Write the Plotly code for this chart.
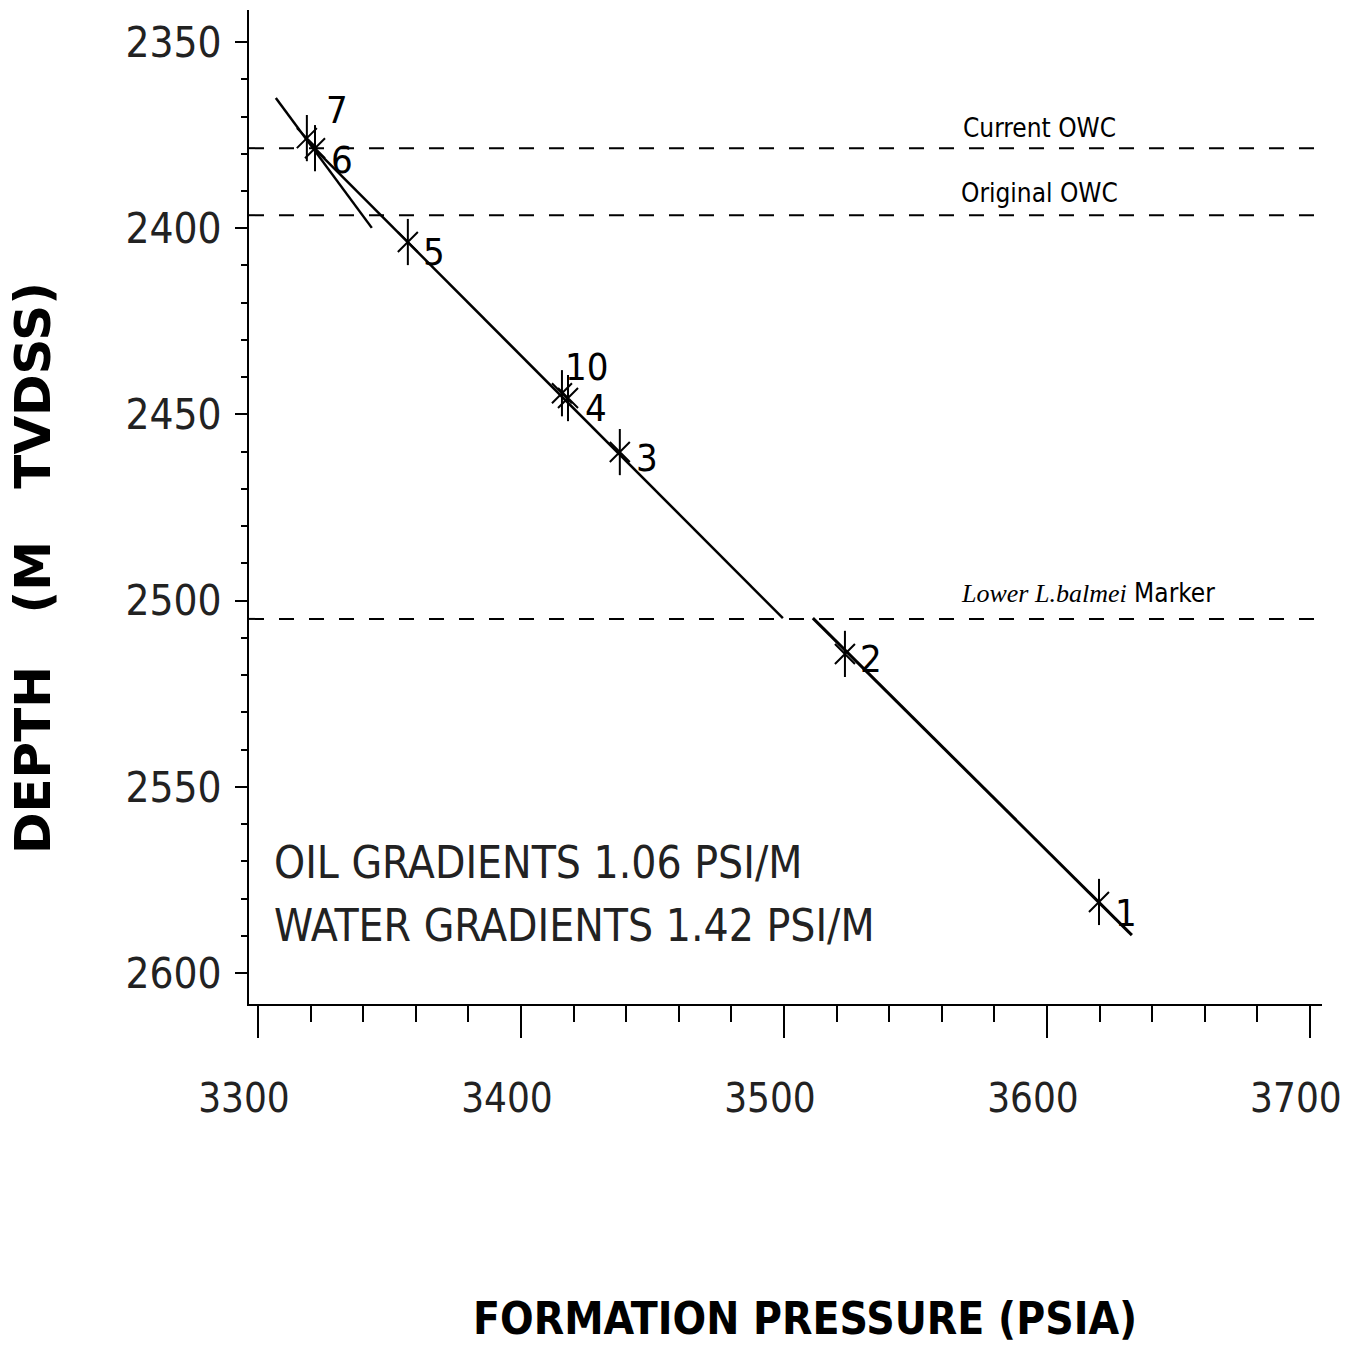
import plotly.graph_objects as go

# ---- data ----
point_ids = ["1", "2", "3", "4", "10", "5", "6", "7"]
pressure_psia = [3619.8, 3523.2, 3437.6, 3417.9, 3415.6, 3357.0, 3321.7, 3318.6]
depth_m = [2580.9, 2514.3, 2460.1, 2445.6, 2444.3, 2403.7, 2378.5, 2375.8]

oil_line_p = [3306.8, 3343.3]
oil_line_d = [2365.0, 2399.9]
water_upper_p = [3320.9, 3499.6]
water_upper_d = [2378.2, 2504.7]
water_lower_p = [3511.0, 3632.3]
water_lower_d = [2504.7, 2589.8]

contact_names = ["Current OWC", "Original OWC",
                 "<i><span style='font-family:Liberation Serif, serif'>Lower L.balmei</span></i> Marker"]
contact_depths = [2378.5, 2396.5, 2504.9]
contact_label_p = [3597.3, 3597.3, 3615.6]

gradient_texts = ["OIL GRADIENTS 1.06 PSI/M", "WATER GRADIENTS 1.42 PSI/M"]
gradient_text_p = [3305.3, 3305.3]
gradient_text_d = [2570.2, 2587.1]

x_title = "FORMATION PRESSURE (PSIA)"
y_title = "DEPTH\u00a0\u00a0\u00a0(M\u00a0\u00a0\u00a0TVDSS)"

# ---- styling ----
COND = "DejaVu Sans Condensed, DejaVu Sans, sans-serif"
label_shift = {"1": (27, -11), "2": (26, -5), "3": (27, -6), "4": (28, -10),
               "10": (25, 26), "5": (26, -10), "6": (27, -12), "7": (30, 28)}
contact_shift = [20, 22, 26]

fig = go.Figure()

for px_, py_, w in [(oil_line_p, oil_line_d, 2.5), (water_upper_p, water_upper_d, 2.5),
                    (water_lower_p, water_lower_d, 3)]:
    fig.add_trace(go.Scatter(x=px_, y=py_, mode="lines",
                             line=dict(color="black", width=w), showlegend=False,
                             hoverinfo="skip"))

fig.add_trace(go.Scatter(x=pressure_psia, y=depth_m, mode="markers",
                         marker=dict(symbol="line-ns-open", size=33, color="black",
                                     line=dict(color="black", width=2)),
                         showlegend=False))
fig.add_trace(go.Scatter(x=pressure_psia, y=depth_m, mode="markers",
                         marker=dict(symbol="x-thin-open", size=20, color="black",
                                     line=dict(color="black", width=2)),
                         showlegend=False, text=point_ids))

for d in contact_depths:
    fig.add_shape(type="line", xref="paper", x0=0, x1=1, yref="y", y0=d, y1=d,
                  line=dict(color="black", width=2, dash="15px,15px"))

for name, d, p, s in zip(contact_names, contact_depths, contact_label_p, contact_shift):
    fig.add_annotation(x=p, y=d, text=name, showarrow=False, xanchor="center",
                       yanchor="middle", yshift=s,
                       font=dict(family=COND, size=26, color="black"))

for pid, p, d in zip(point_ids, pressure_psia, depth_m):
    dx, dy = label_shift[pid]
    fig.add_annotation(x=p, y=d, text=pid, showarrow=False, xanchor="center",
                       yanchor="middle", xshift=dx, yshift=dy,
                       font=dict(family=COND, size=38, color="black"))

for t, p, d in zip(gradient_texts, gradient_text_p, gradient_text_d):
    fig.add_annotation(x=p, y=d, text=t, showarrow=False, xanchor="left",
                       yanchor="middle",
                       font=dict(family=COND, size=44, color="#222"))

fig.add_annotation(xref="paper", yref="paper", x=-0.2013, y=0.4386, text=y_title,
                   textangle=-90, showarrow=False, xanchor="center", yanchor="middle",
                   font=dict(family="DejaVu Sans, sans-serif", size=50, color="black",
                             weight="bold"))
fig.add_annotation(xref="paper", yref="paper", x=0.5186, y=-0.3159, text=x_title,
                   showarrow=False, xanchor="center", yanchor="middle",
                   font=dict(family=COND, size=44, color="black", weight="bold"))

fig.update_xaxes(range=[3296.6, 3704.6], dtick=100, tick0=3300, ticks="outside",
                 ticklen=32, tickwidth=2, tickcolor="black",
                 minor=dict(dtick=20, ticks="outside", ticklen=16, tickwidth=2,
                            tickcolor="black"),
                 showline=True, linewidth=2, linecolor="black", showgrid=False,
                 zeroline=False, ticklabelstandoff=26, ticklabelshift=-14,
                 ticklabeloverflow="allow", automargin=False,
                 tickfont=dict(family=COND, size=40, color="#222"))
fig.update_yaxes(range=[2608.3, 2341.4], dtick=50, tick0=2350, ticks="outside",
                 ticklen=12, tickwidth=2, tickcolor="black",
                 minor=dict(dtick=10, ticks="outside", ticklen=6, tickwidth=2,
                            tickcolor="black"),
                 showline=True, linewidth=2, linecolor="black", showgrid=False,
                 zeroline=False, ticklabelstandoff=5, ticklabeloverflow="allow",
                 automargin=False,
                 tickfont=dict(family=COND, size=42, color="#222"))

fig.update_layout(width=1347, height=1352, autosize=False,
                  margin=dict(l=249, r=25, t=10, b=348, autoexpand=False),
                  paper_bgcolor="white", plot_bgcolor="white", showlegend=False)

fig.write_html("out.html")
